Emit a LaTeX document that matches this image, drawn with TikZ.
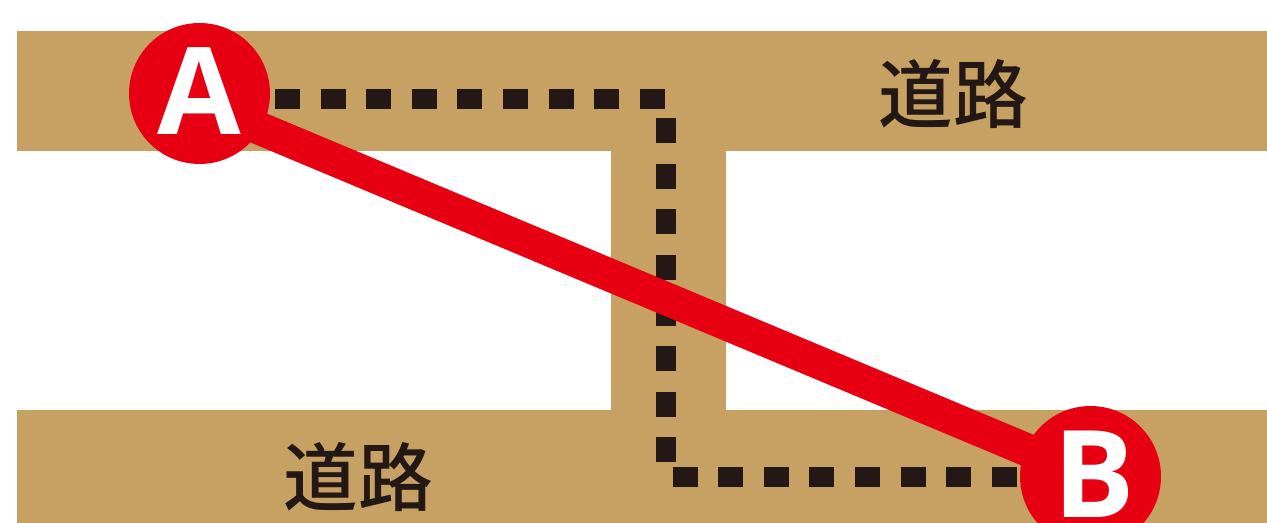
\documentclass[tikz,border=0pt]{standalone}
\usepackage{fontspec}
\setmainfont{Open Sans}
\newfontfamily\cjk{Noto Sans CJK JP Medium}
\definecolor{road}{HTML}{C7A063}
\definecolor{routered}{HTML}{E60012}
\definecolor{routeblack}{HTML}{231815}
\begin{document}
\begin{tikzpicture}[x=0.02cm, y=-0.02cm,
stop/.style = {circle, fill=routered, text=white, inner sep=0pt, minimum size=2.82cm, font=\fontsize{69}{69}\selectfont\bfseries},
roadlabel/.style = {text=routeblack, inner sep=0pt, font=\cjk\fontsize{42.5}{42.5}\selectfont},
roadbit/.style = {fill=road},
walk/.style = {routeblack, line width=0.4cm, dash pattern=on 0.5cm off 0.412cm},
direct/.style = {routered, line width=0.66cm, shorten <=-0.1cm, shorten >=-0.1cm}
]

    \clip (0,0) rectangle (1267,523);

    \fill [roadbit] (17,31) rectangle (1267,151);
    \fill [roadbit] (611,151) rectangle (726,410);
    \fill [roadbit] (17,410) rectangle (1267,523);

    \node [roadlabel] (road1) at (953,94) {道路};
    \node [roadlabel] (road2) at (358,477) {道路};

    \coordinate (walkstart) at (275,99);
    \coordinate (corner1) at (666,99);
    \coordinate (corner2) at (666,476.5);
    \coordinate (walkend) at (1018,476.5);

    \draw [walk] (walkstart) -- (corner1) -- (corner2) -- (walkend);

    \node [stop] (A) at (199.5,93.5) {\raisebox{0.08cm}{A}};
    \node [stop] (B) at (1090.5,476.5) {\hspace*{0.16cm}\raisebox{0.08cm}{B}};

    \draw [direct] (A.-30) -- (B);

\end{tikzpicture}
\end{document}
